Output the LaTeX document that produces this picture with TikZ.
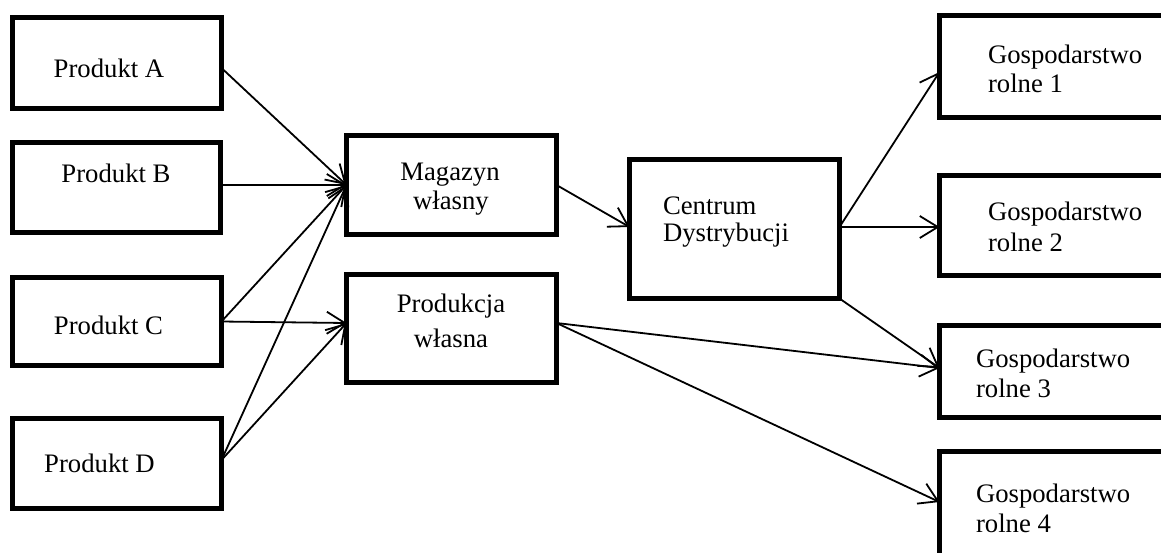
\documentclass[tikz,border=0pt]{standalone}
\usepackage{fontspec}
\setmainfont{Liberation Serif}
\usetikzlibrary{arrows.meta,calc}
\tikzset{
  box/.style={draw=black, line width=2.4pt, fill=white, inner sep=0pt, outer sep=0pt},
  txt/.style={inner sep=0pt, outer sep=0pt, font=\fontsize{13.35pt}{16pt}\selectfont},
  link/.style={line width=0.9pt, -{Straight Barb[length=9pt,width=11pt,line width=0.9pt]}}
}
\newcommand{\mybox}[5]{\node[box, minimum width={(#4-5)*0.5pt}, minimum height={(#5-5)*0.5pt}] (#1) at (#2,#3) {};}
\begin{document}
\begin{tikzpicture}[x=0.5pt,y=-0.5pt]
\path[use as bounding box, fill=white] (0,0) rectangle (1161,552);
\clip (0,0) rectangle (1161,552);
% boxes
\mybox{A}{117}{63}{214}{96}
\mybox{B}{116.5}{187.5}{213}{95}
\mybox{C}{117}{321.5}{214}{93}
\mybox{D}{117}{463.5}{214}{95}
\mybox{Mag}{451.5}{185}{215}{104}
\mybox{Prod}{451.5}{328.5}{215}{113}
\mybox{Cen}{734.5}{229}{215}{144}
\mybox{G1}{1058}{66.5}{242}{107}
\mybox{G2}{1058}{225.5}{242}{105}
\mybox{G3}{1058}{371.5}{242}{97}
\mybox{G4}{1058}{507}{242}{116}
% texts
\node[txt, anchor=base] (tA) at (109,77) {Produkt A};
\node[txt, anchor=base] (tB) at (116,182) {Produkt B};
\node[txt, anchor=base] (tC) at (108.5,334) {Produkt C};
\node[txt, anchor=base] (tD) at (99.5,472) {Produkt D};
\node[txt, anchor=base] (tMag1) at (450,180) {Magazyn};
\node[txt, anchor=base] (tMag2) at (451,209) {własny};
\node[txt, anchor=base] (tProd1) at (451,312) {Produkcja};
\node[txt, anchor=base] (tProd2) at (451,347) {własna};
\node[txt, anchor=base west] (tCen1) at (663,214) {Centrum};
\node[txt, anchor=base west] (tCen2) at (663,241) {Dystrybucji};
\node[txt, anchor=base west] (tG1a) at (988,63) {Gospodarstwo};
\node[txt, anchor=base west] (tG1b) at (988,92) {rolne 1};
\node[txt, anchor=base west] (tG2a) at (988,220) {Gospodarstwo};
\node[txt, anchor=base west] (tG2b) at (988,251) {rolne 2};
\node[txt, anchor=base west] (tG3a) at (976,367) {Gospodarstwo};
\node[txt, anchor=base west] (tG3b) at (976,397) {rolne 3};
\node[txt, anchor=base west] (tG4a) at (976,502) {Gospodarstwo};
\node[txt, anchor=base west] (tG4b) at (976,532) {rolne 4};
% connectors
\draw[link] ($(A.east)+(0,5)$) -- (Mag.west);
\draw[link] ($(B.east)+(0,-2.5)$) -- (Mag.west);
\draw[link] (C.east) -- (Mag.west);
\draw[link] ($(D.east)+(0,-3.5)$) -- (Mag.west);
\draw[link] (C.east) -- ($(Prod.west)+(0,-5.5)$);
\draw[link] ($(D.east)+(0,-3.5)$) -- ($(Prod.west)+(0,-5.5)$);
\draw[link] (Mag.east) -- ($(Cen.west)+(0,-2)$);
\draw[link] ($(Cen.east)+(0,-2)$) -- ($(G1.west)+(0,5.5)$);
\draw[link] ($(Cen.east)+(0,-2)$) -- ($(G2.west)+(0,1.5)$);
\draw[link] (Cen.south east) -- ($(G3.west)+(0,-3.5)$);
\draw[link] ($(Prod.east)+(0,-5.5)$) -- ($(G3.west)+(0,-3.5)$);
\draw[link] ($(Prod.east)+(0,-5.5)$) -- ($(G4.west)+(0,-5)$);
\end{tikzpicture}
\end{document}
